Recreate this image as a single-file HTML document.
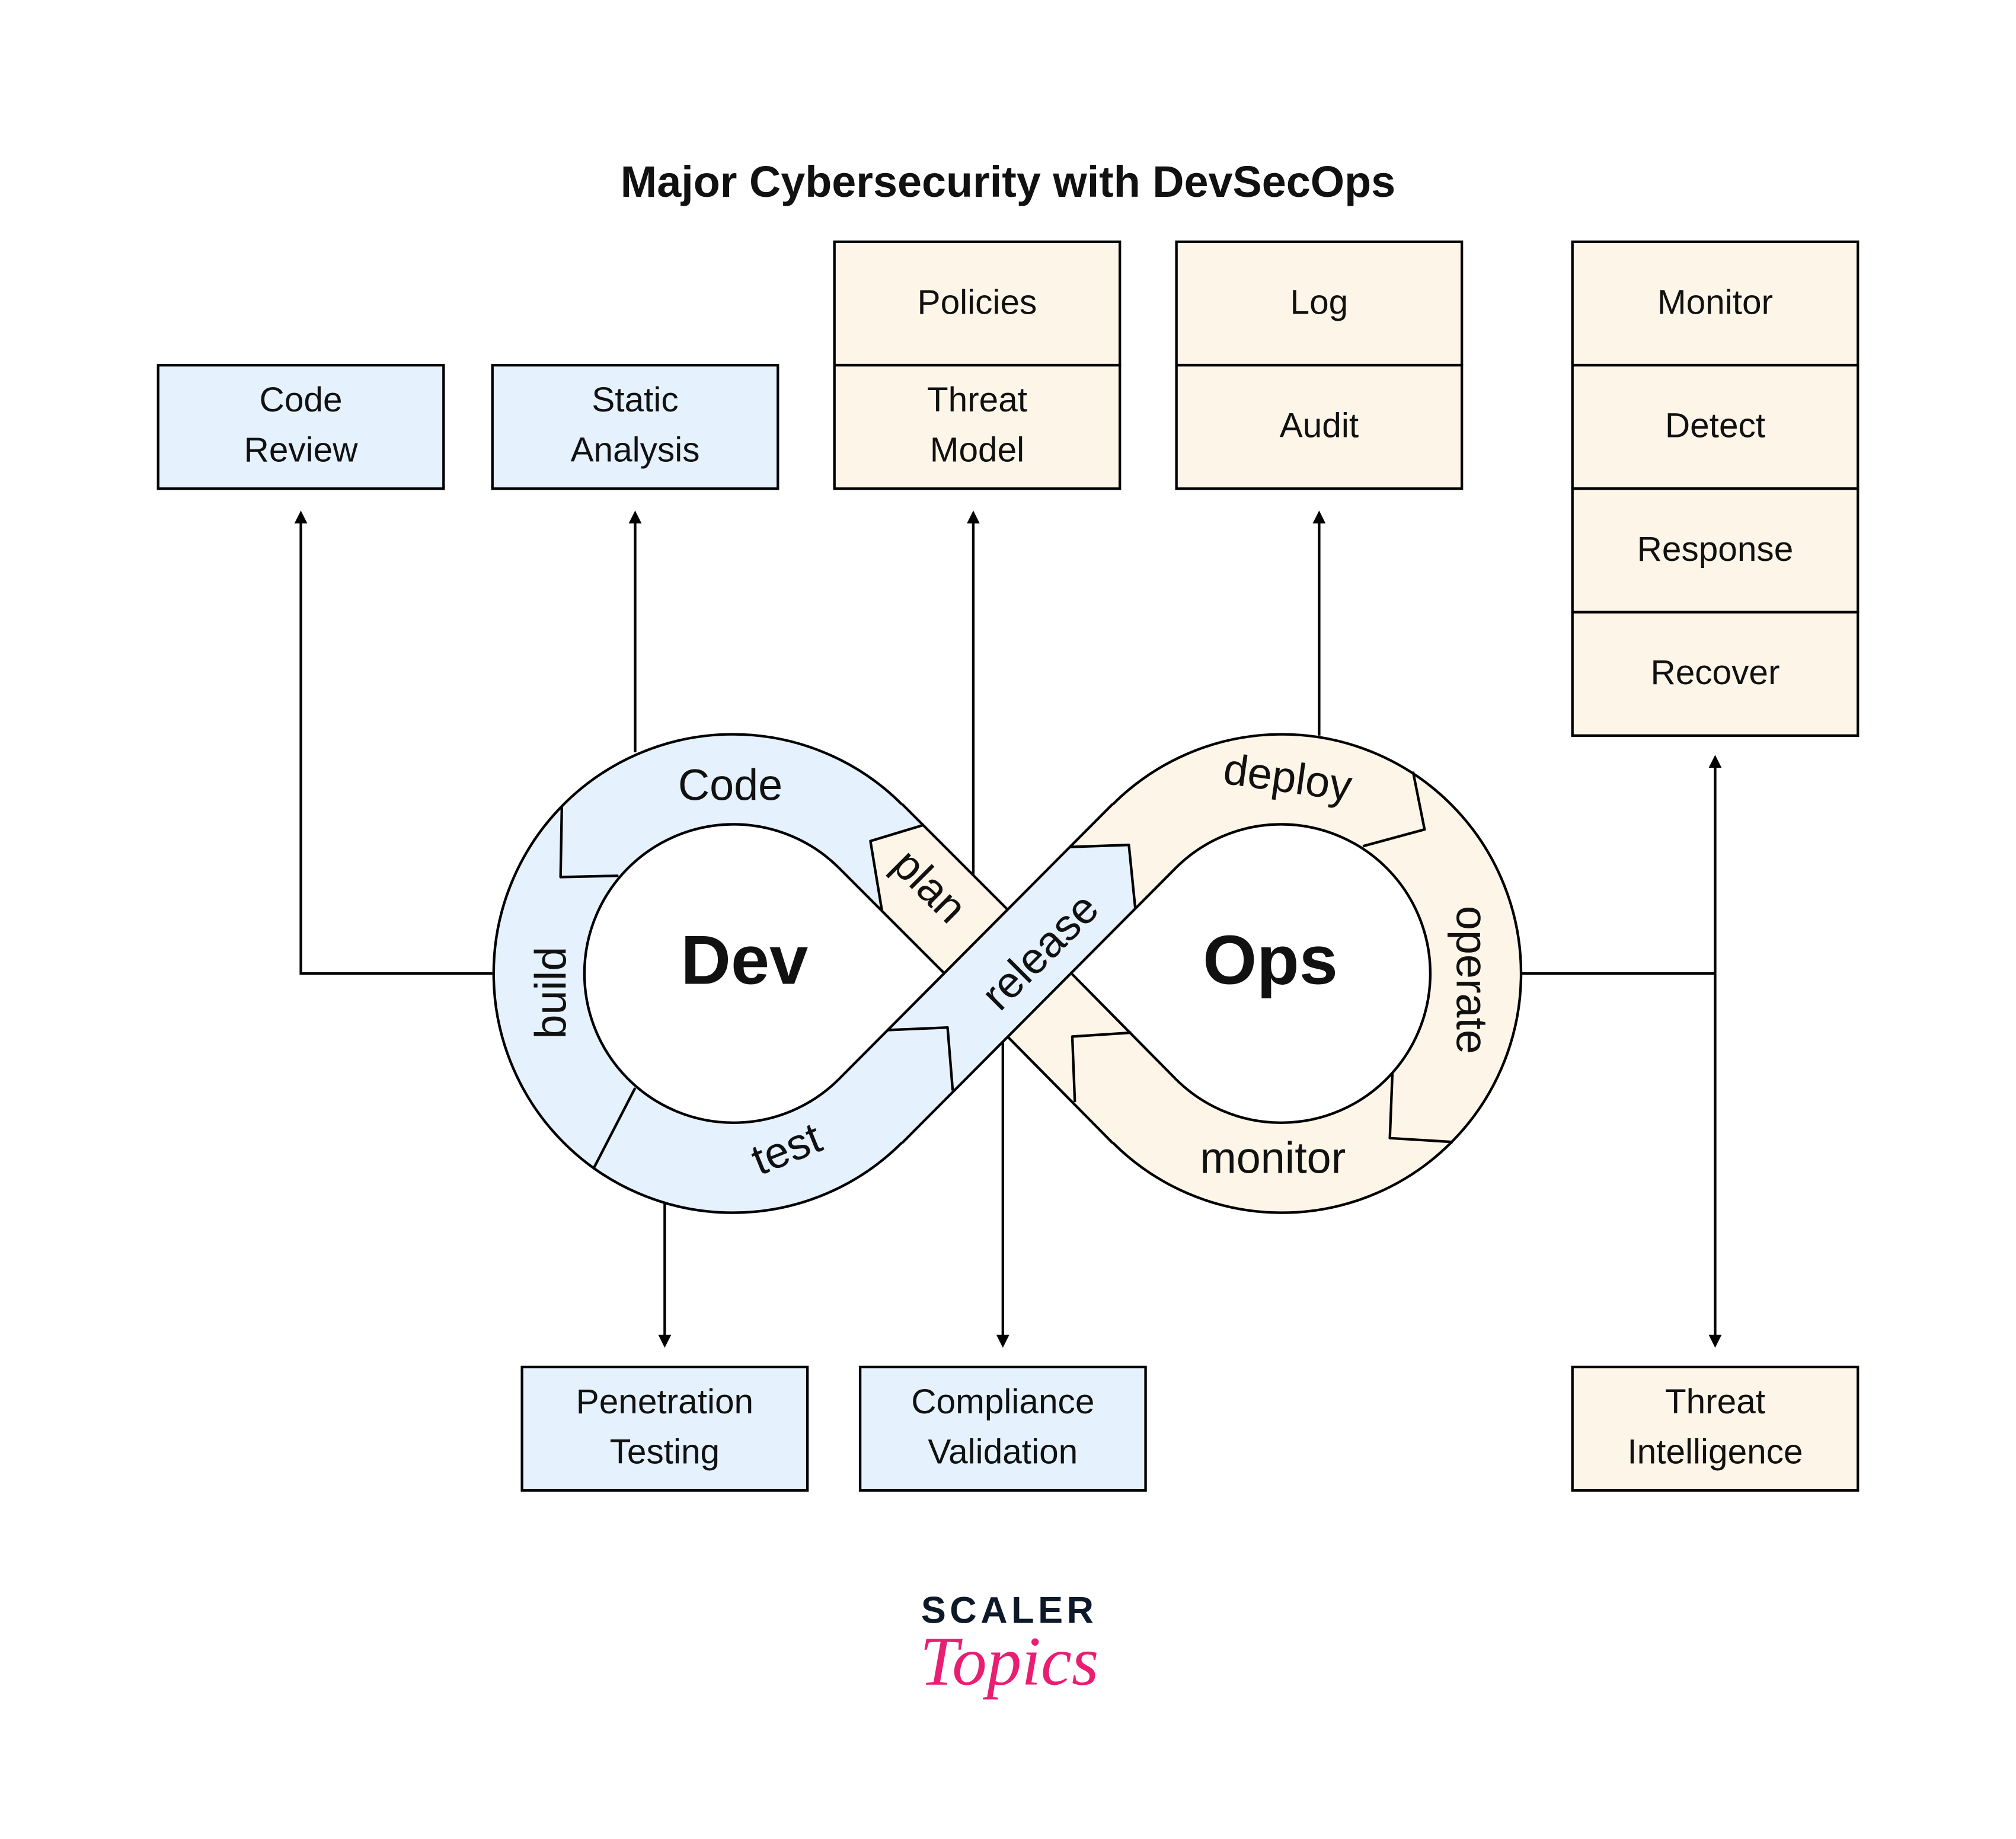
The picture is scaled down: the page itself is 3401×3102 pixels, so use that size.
<!DOCTYPE html>
<html><head><meta charset="utf-8"><style>
html,body{margin:0;padding:0;background:#fff;}
svg{display:block;}
text{font-family:"Liberation Sans",sans-serif;fill:#111;}
</style></head><body>
<svg width="3401" height="3102" viewBox="0 0 1568 1430" preserveAspectRatio="none" xmlns="http://www.w3.org/2000/svg">
<defs>
<marker id="ar" markerWidth="10" markerHeight="10" refX="5" refY="5" orient="auto" markerUnits="userSpaceOnUse">
<path d="M0,0 L10,5 L0,10 z" fill="#000"/>
</marker>
</defs>
<rect width="1568" height="1430" fill="#fff"/>
<text x="784" y="153" font-size="34" font-weight="bold" text-anchor="middle">Major Cybersecurity with DevSecOps</text>

<!-- connectors -->
<g stroke="#000" stroke-width="2" fill="none">
<polyline points="383,757 234,757 234,402" marker-end="url(#ar)"/>
<line x1="494" y1="585" x2="494" y2="402" marker-end="url(#ar)"/>
<line x1="757" y1="680" x2="757" y2="402" marker-end="url(#ar)"/>
<line x1="1026" y1="572" x2="1026" y2="402" marker-end="url(#ar)"/>
<line x1="1183" y1="757" x2="1334" y2="757"/>
<line x1="1334" y1="757" x2="1334" y2="592" marker-end="url(#ar)"/>
<line x1="1334" y1="757" x2="1334" y2="1043" marker-end="url(#ar)"/>
<line x1="517" y1="935" x2="517" y2="1043" marker-end="url(#ar)"/>
<line x1="780" y1="808" x2="780" y2="1043" marker-end="url(#ar)"/>
</g>

<!-- boxes -->
<g stroke="#000" stroke-width="2">
<rect x="123" y="284" width="222" height="96" fill="#e5f2fd"/>
<rect x="383" y="284" width="222" height="96" fill="#e5f2fd"/>
<rect x="649" y="188" width="222" height="96" fill="#fdf5e8"/>
<rect x="649" y="284" width="222" height="96" fill="#fdf5e8"/>
<rect x="915" y="188" width="222" height="96" fill="#fdf5e8"/>
<rect x="915" y="284" width="222" height="96" fill="#fdf5e8"/>
<rect x="1223" y="188" width="222" height="96" fill="#fdf5e8"/>
<rect x="1223" y="284" width="222" height="96" fill="#fdf5e8"/>
<rect x="1223" y="380" width="222" height="96" fill="#fdf5e8"/>
<rect x="1223" y="476" width="222" height="96" fill="#fdf5e8"/>
<rect x="406" y="1063" width="222" height="96" fill="#e5f2fd"/>
<rect x="669" y="1063" width="222" height="96" fill="#e5f2fd"/>
<rect x="1223" y="1063" width="222" height="96" fill="#fdf5e8"/>
</g>
<g font-size="27" text-anchor="middle">
<text x="234" y="320">Code</text><text x="234" y="359">Review</text>
<text x="494" y="320">Static</text><text x="494" y="359">Analysis</text>
<text x="760" y="244">Policies</text>
<text x="760" y="320">Threat</text><text x="760" y="359">Model</text>
<text x="1026" y="244">Log</text>
<text x="1026" y="340">Audit</text>
<text x="1334" y="244">Monitor</text>
<text x="1334" y="340">Detect</text>
<text x="1334" y="436">Response</text>
<text x="1334" y="532">Recover</text>
<text x="517" y="1099">Penetration</text><text x="517" y="1138">Testing</text>
<text x="780" y="1099">Compliance</text><text x="780" y="1138">Validation</text>
<text x="1334" y="1099">Threat</text><text x="1334" y="1138">Intelligence</text>
</g>

<!-- infinity fills -->
<circle cx="570" cy="757" r="186" fill="#e5f2fd"/>
<circle cx="997" cy="757" r="186" fill="#fdf5e8"/>
<polygon points="718,641.6 677,654 686,708.4 865.3,888.7 914.7,839.3" fill="#fdf5e8"/>
<polygon points="701.7,625.3 718,641.6 677,654 686,708.4 652.3,674.7" fill="#e5f2fd"/>
<polygon points="865.3,625.3 914.7,674.7 883,706.4 878,657 832,658.6" fill="#fdf5e8"/>
<polygon points="832,658.6 878,657 883,706.4 701.7,888.7 652.3,839.3" fill="#e5f2fd"/>
<path d="M652.3,674.7 A116,116 0 1 0 652.3,839.3 L734,757 Z" fill="#fff"/>
<path d="M914.7,674.7 A116,116 0 1 1 914.7,839.3 L832.9,757 Z" fill="#fff"/>

<!-- outlines -->
<g stroke="#000" stroke-width="2" fill="none" stroke-linejoin="round">
<path d="M701.5,625.5 A186,186 0 1 0 701.5,888.5"/>
<path d="M865.5,625.5 A186,186 0 1 1 865.5,888.5"/>
<path d="M652.3,674.7 A116,116 0 1 0 652.3,839.3"/>
<path d="M914.7,674.7 A116,116 0 1 1 914.7,839.3"/>
<line x1="701.7" y1="888.7" x2="914.7" y2="674.7"/>
<line x1="652.3" y1="839.3" x2="865.3" y2="625.3"/>
<line x1="701.7" y1="625.3" x2="783.5" y2="707.1"/>
<line x1="832.9" y1="756.5" x2="914.7" y2="839.3"/>
<line x1="652.3" y1="674.7" x2="734" y2="756.4"/>
<line x1="783.5" y1="805.9" x2="865.3" y2="888.7"/>
<polyline points="437,627 436,682 481,681"/>
<polyline points="718,641.6 677,654 686,708.4"/>
<polyline points="832,658.6 878,657 883,706.4"/>
<polyline points="690,801 737,799 741,848"/>
<line x1="494" y1="846" x2="462" y2="908"/>
<polyline points="1060,658 1108,645 1099,600"/>
<polyline points="1130,888 1081,885 1083,834"/>
<polyline points="880,803 834,806 836,857"/>
</g>

<!-- ring labels -->
<g font-size="34">
<text x="568" y="622" text-anchor="middle">Code</text>
<text transform="translate(440,772) rotate(-90)" text-anchor="middle">build</text>
<text transform="translate(616,904) rotate(-22)" text-anchor="middle">test</text>
<text transform="translate(715,697) rotate(45)" text-anchor="middle">plan</text>
<text transform="translate(817,748) rotate(-45)" text-anchor="middle">release</text>
<text transform="translate(1000,616) rotate(8)" text-anchor="middle">deploy</text>
<text transform="translate(1133,762) rotate(90)" text-anchor="middle">operate</text>
<text x="990" y="912" text-anchor="middle">monitor</text>
</g>
<text x="579" y="765" font-size="54" font-weight="bold" text-anchor="middle">Dev</text>
<text x="988" y="765" font-size="54" font-weight="bold" text-anchor="middle">Ops</text>

<text x="785" y="1262" font-size="29" font-weight="bold" text-anchor="middle" letter-spacing="3" style="fill:#0d1829">SCALER</text>
<text x="785" y="1310" font-size="54" font-style="italic" text-anchor="middle" style="fill:#e91e73;font-family:'Liberation Serif',serif">Topics</text>
</svg>
</body></html>
